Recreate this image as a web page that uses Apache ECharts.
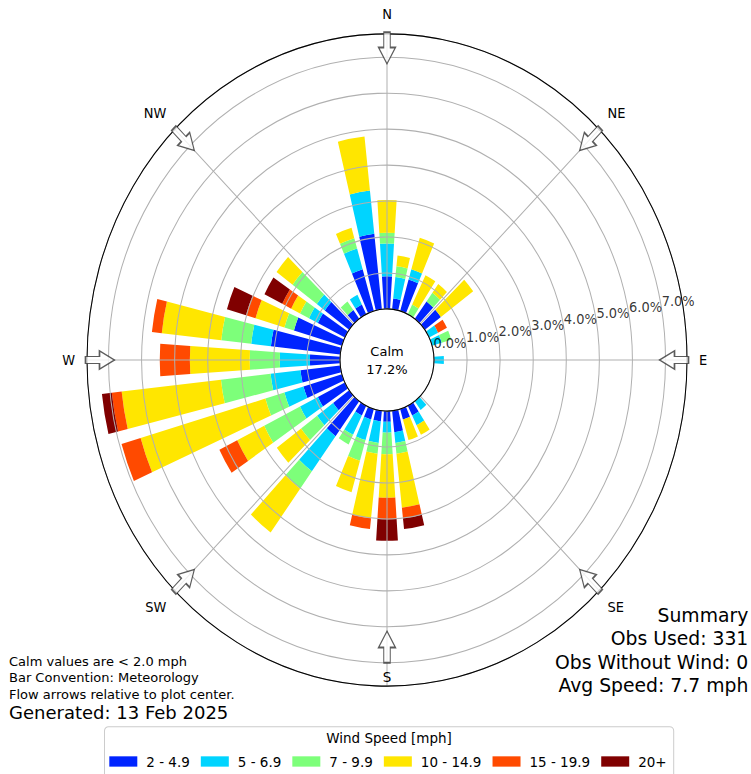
<!DOCTYPE html>
<html><head><meta charset="utf-8">
<script src="https://cdn.jsdelivr.net/npm/echarts/dist/echarts.min.js"></script>
<style>
html,body{margin:0;padding:0;background:#fff;}
#rose{position:absolute;left:0;top:0;width:751px;height:774px;transform:scaleY(1.087);transform-origin:387px 360px;}
#notes{position:absolute;left:0;top:0;width:751px;height:774px;pointer-events:none;}
</style></head><body>
<div id="rose"></div><div id="notes"></div>
<script>
// ---- data (percent of observations) ----
const DIRS = ['0','10','20','30','40','50','60','70','80','90','100','110','120','130','140','150','160','170','180','190','200','210','220','230','240','250','260','270','280','290','300','310','320','330','340','350'];
const SPEED_BINS = ['2 - 4.9','5 - 6.9','7 - 9.9','10 - 14.9','15 - 19.9','20+'];
const BIN_COLORS = ['#0024ff','#00d4ff','#7dff7a','#ffe600','#ff4a00','#800000'];
const S_2_5   = [0.91,0.30,0.91,0,0.60,0.60,0,0,0,0, 0,0,0,0,0,0.30,0.30,0.60,0.30,0.30, 0.30,0.30,1.21,0.60,0.91,1.21,1.21,0.91,2.11,1.51, 0.91,0.91,0.30,0.30,1.21,2.11];
const S_5_7   = [0.91,0.60,0.30,0,0,0,0.30,0.30,0,0.30, 0,0,0,0,0.30,0.30,0,0.30,0.30,0.60, 0.60,0.60,1.21,0.60,0.60,0.60,0.91,0.91,0.60,0, 0.30,0.30,0,0.30,0.60,1.21];
const S_7_10  = [0.30,0.30,0,0.30,0.30,0,0,0.30,0,0, 0,0,0,0,0,0,0,0.30,0.60,0.30, 0.60,0.30,0.60,0.60,1.21,0.60,1.51,0.91,0.91,0.30, 0.30,0.91,0.30,0,0.30,0];
const S_10_15 = [0.91,0.30,0.91,0.91,0.30,1.21,0,0,0,0, 0,0,0,0,0,0.30,0.60,1.51,1.21,1.81, 0.91,0,1.51,0.91,0.91,3.93,3.02,1.81,1.81,0.91, 0.30,0.60,0,0,0.30,1.51];
const S_15_20 = [0,0,0,0,0,0,0.30,0,0,0, 0,0,0,0,0,0,0,0.30,0.60,0.30, 0,0,0,0,0.60,0.60,0.30,0.91,0.30,0.30, 0.30,0,0,0,0,0];
const S_20UP  = [0,0,0,0,0,0,0,0,0,0, 0,0,0,0,0,0,0,0.30,0.60,0, 0,0,0,0,0,0,0.30,0,0,0.60, 0.60,0,0,0,0,0];
const RING_TICKS = [0,1,2,3,4,5,6,7];
const COMPASS = ['N','NE','E','SE','S','SW','W','NW'];
const COMPASS_DEG = [0,45,90,135,180,225,270,315];
const CALM_TEXT = ['Calm','17.2%'];
const SUMMARY = ['Summary','Obs Used: 331','Obs Without Wind: 0','Avg Speed: 7.7 mph'];
const NOTES = ['Calm values are < 2.0 mph','Bar Convention: Meteorology','Flow arrows relative to plot center.'];
const GENERATED = 'Generated: 13 Feb 2025';
const LEGEND_TITLE = 'Wind Speed [mph]';

// ---- layout ----
const CX = 387, CY = 360, SY = 1.087;
const R_IN = 47, R_7 = 278.5, R_OUT = 300;
const PX_PER = (R_7 - R_IN) / 7;
const RMAX = (R_OUT - R_IN) / PX_PER;
const ARROW_R = (R_OUT - 13 - R_IN) / PX_PER;
const ARROW_R_S = (264 - R_IN) / PX_PER;   // the south arrow sits further in
const S_LABEL_Y = 677;
const LABEL_ANG = 80.4;
const uy = y => CY + (y - CY) / SY;
const FONT = 'DejaVu Sans';
const ARROW_PATH = 'path://M8.5,0 L17,15 L11.75,15 L11.75,29 L5.25,29 L5.25,15 L0,15 Z';

const SERIES_VALUES = [S_2_5, S_5_7, S_7_10, S_10_15, S_15_20, S_20UP];

const barSeries = SPEED_BINS.map((name, i) => ({
  name, type: 'bar', coordinateSystem: 'polar', polarIndex: 0,
  stack: 'rose', data: SERIES_VALUES[i], barCategoryGap: '25%',
  itemStyle: { color: BIN_COLORS[i] }, silent: true, z: 2
}));

const rose = echarts.init(document.getElementById('rose'), null, { renderer: 'svg' });
rose.setOption({
  animation: false,
  backgroundColor: '#fff',
  polar: [
    { center: [CX, CY], radius: [R_IN, R_OUT] },
    { center: [CX, CY], radius: [R_IN, R_OUT] }
  ],
  angleAxis: [
    { polarIndex: 0, type: 'category', data: DIRS, startAngle: 95, clockwise: true, show: false },
    { polarIndex: 1, type: 'value', min: 0, max: 360, interval: 45, startAngle: 90, clockwise: true, z: 6,
      axisLine: { show: true, lineStyle: { color: '#000', width: 1 } },
      axisTick: { show: false },
      axisLabel: { show: true, margin: 12, fontSize: 13, fontFamily: FONT, color: '#000',
        formatter: v => { const i = COMPASS_DEG.indexOf(v); return (i < 0 || v === 360 || v === 180) ? '' : COMPASS[i]; } },
      splitLine: { show: true, lineStyle: { color: '#b0b0b0', width: 1 } }
    }
  ],
  radiusAxis: [
    { polarIndex: 0, type: 'value', min: 0, max: RMAX, show: false },
    { polarIndex: 1, type: 'value', min: 0, max: RMAX, interval: 1, z: 5,
      axisLine: { show: false }, axisTick: { show: false }, axisLabel: { show: false },
      splitLine: { show: true, lineStyle: { color: '#b0b0b0', width: 1 } } }
  ],
  legend: {
    data: SPEED_BINS, left: 104.5, top: uy(726.7), orient: 'horizontal',
    padding: [25, 7, 30, 4.8], itemGap: 11, itemWidth: 28, itemHeight: 9.5,
    icon: 'rect', selectedMode: false,
    textStyle: { fontSize: 13.5, fontFamily: FONT, color: '#000', padding: [0, 0, 0, 4] },
    borderColor: '#cccccc', borderWidth: 1, borderRadius: 4, backgroundColor: '#fff'
  },
  series: barSeries.concat([
    { type: 'scatter', coordinateSystem: 'polar', polarIndex: 1, silent: true, z: 10,
      symbol: ARROW_PATH, symbolSize: [17, 29], symbolKeepAspect: false,
      itemStyle: { color: '#fff', borderColor: '#333', borderWidth: 1.3 },
      data: COMPASS_DEG.map(a => ({ value: [a === 180 ? ARROW_R_S : ARROW_R, a], symbolRotate: -(a + 180) })) },
    { type: 'scatter', coordinateSystem: 'polar', polarIndex: 1, silent: true, z: 10,
      symbolSize: 0.1, itemStyle: { color: 'rgba(0,0,0,0)' },
      label: { show: true, position: 'right', distance: 0, offset: [0, -7.8],
        formatter: p => p.value[0].toFixed(1) + '%', fontSize: 13, fontFamily: FONT, color: '#000' },
      data: RING_TICKS.map(t => [t, LABEL_ANG]) }
  ])
});

function txt(x, y, text, size, align) {
  return { type: 'text', x, y, silent: true,
    style: { text, fill: '#000', font: size + 'px "' + FONT + '"',
      align, textAlign: align, verticalAlign: 'middle', textVerticalAlign: 'middle' } };
}
const notes = echarts.init(document.getElementById('notes'), null, { renderer: 'svg' });
const g = [];
g.push(txt(CX, 351, CALM_TEXT[0], 13, 'center'));
g.push(txt(CX, 369, CALM_TEXT[1], 13, 'center'));
g.push(txt(CX, S_LABEL_Y, COMPASS[4], 13.5, 'center'));
NOTES.forEach((t, i) => g.push(txt(9, 661 + i * 16.5, t, 13, 'left')));
g.push(txt(9, 712, GENERATED, 18, 'left'));
SUMMARY.forEach((t, i) => g.push(txt(748.3, 615 + i * 23.5, t, 18.8, 'right')));
g.push(txt(389, 738, LEGEND_TITLE, 13.5, 'center'));
notes.setOption({ animation: false, graphic: g });
</script>
</body></html>
